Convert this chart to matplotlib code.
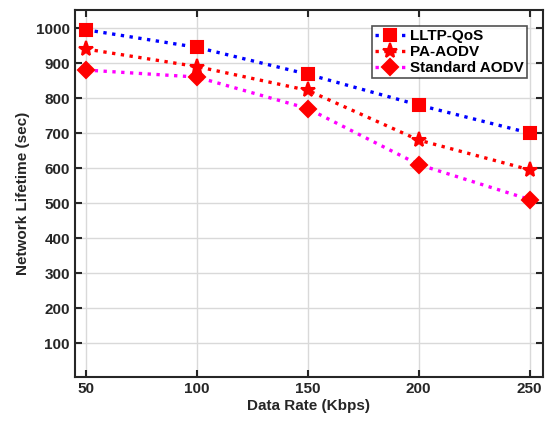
import matplotlib
matplotlib.use("Agg")
import matplotlib.pyplot as plt

plt.rcParams['font.family'] = ['Liberation Sans', 'DejaVu Sans']
plt.rcParams['font.weight'] = 'bold'

# datos
data_rate = [50, 100, 150, 200, 250]
lltp_qos = [995, 945, 868, 780, 700]
pa_aodv = [940, 890, 822, 680, 595]
std_aodv = [880, 860, 770, 610, 510]

fig = plt.figure(figsize=(5.5, 4.25), dpi=100)
ax = fig.add_axes([0.136, 0.113, 0.851, 0.863])

estilo = dict(ls=':', lw=2.4, mfc='red', mec='red', mew=1.5)
ax.plot(data_rate, lltp_qos, color='blue', marker='s', ms=9, label='LLTP-QoS', **estilo)
ax.plot(data_rate, pa_aodv, color='red', marker='*', ms=11, label='PA-AODV', **estilo)
ax.plot(data_rate, std_aodv, color='magenta', marker='D', ms=8.5, label='Standard AODV', **estilo)

ax.set_xlim(45, 256)
ax.set_ylim(3, 1051)
ax.set_xticks(data_rate)
ax.set_yticks(range(100, 1001, 100))
ax.grid(True, color='#d9d9d9', lw=1.0)
ax.set_axisbelow(True)
ax.tick_params(direction='in', top=True, right=True, length=5, width=1.5,
               labelsize=11, colors='#262626')
for s in ax.spines.values():
    s.set_linewidth(1.5)
    s.set_color('#262626')

ax.set_xlabel('Data Rate (Kbps)', fontsize=11, fontweight='bold', color='#262626', labelpad=2)
ax.set_ylabel('Network Lifetime (sec)', fontsize=11, fontweight='bold', color='#262626')

leg = ax.legend(loc='upper right', fontsize=11, frameon=True, fancybox=False,
                borderpad=0.2, handlelength=2.0, handletextpad=0.3, labelspacing=0.12,
                borderaxespad=1.05)
leg.get_frame().set_edgecolor('#262626')
leg.get_frame().set_linewidth(1.2)

fig.savefig('out.png', dpi=100)
